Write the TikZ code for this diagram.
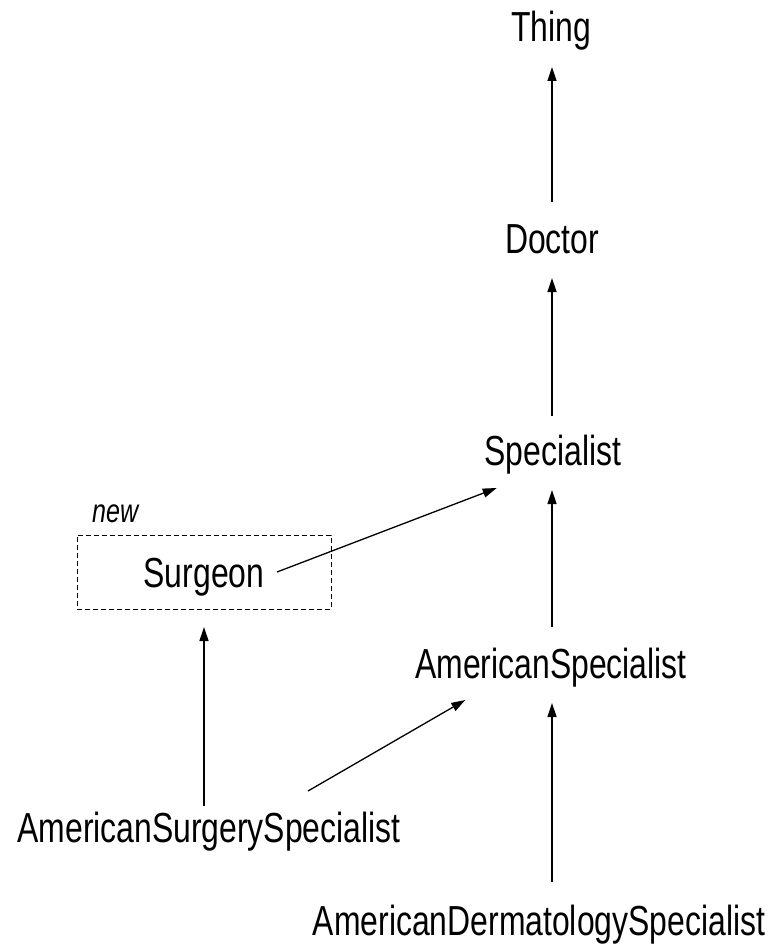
\documentclass[tikz,border=0pt]{standalone}
\usepackage{fontspec}
\setmainfont{Liberation Sans}[FakeStretch=0.76]
\usetikzlibrary{arrows.meta}
\tikzset{
  lbl/.style={inner sep=0pt, outer sep=0pt, text height=31pt, text depth=0pt,
    font=\fontsize{42}{48}\selectfont},
  newbox/.style={lbl, draw, dashed, dash pattern=on 5pt off 3pt, line width=1pt,
    minimum width=254pt, minimum height=74pt},
  tag/.style={inner sep=0pt, anchor=base west, font=\fontsize{33}{38}\selectfont\itshape},
  arr/.style={line width=1.3pt, -{Triangle[length=14pt,width=9pt]}}
}
\begin{document}
\begin{tikzpicture}[x=1pt,y=-1pt]
\useasboundingbox (0,0) rectangle (778,944);
\coordinate (col) at (552,0);
\node[lbl, anchor=south] (thing) at (551,42) {Thing};
\node[lbl, anchor=south] (doctor) at (552,253) {Doctor};
\node[lbl, anchor=south] (spec) at (553,465) {Specialist};
\node[newbox] (surg) at (204,572) {Surgeon};
\node[tag] (new) at ([shift={(15pt,13pt)}]surg.north west) {new};
\node[lbl, anchor=south] (aspec) at (551,678) {AmericanSpecialist};
\node[lbl, anchor=south] (asurg) at (209,842) {AmericanSurgerySpecialist};
\node[lbl, anchor=south] (aderm) at (539,935) {AmericanDermatologySpecialist};

\coordinate (thingB) at (thing.south -| col);
\coordinate (doctorT) at (doctor.north -| col);
\coordinate (doctorB) at (doctor.south -| col);
\coordinate (specT) at (spec.north -| col);
\coordinate (specB) at (spec.south -| col);
\coordinate (aspecT) at (aspec.north -| col);
\coordinate (aspecB) at (aspec.south -| col);
\coordinate (adermT) at (aderm.north -| col);

\draw[arr] ([yshift=20pt]doctorT) -- ([yshift=-25pt]thingB);
\draw[arr] ([yshift=18pt]specT) -- ([yshift=-25pt]doctorB);
\draw[arr] ([yshift=20pt]aspecT) -- ([yshift=-25pt]specB);
\draw[arr] ([yshift=22pt]adermT) -- ([yshift=-25pt]aspecB);
\draw[arr] ([xshift=-54pt]surg.east) -- ([shift={(12pt,-23pt)}]spec.south west);
\draw[arr] ([shift={(-5pt,5pt)}]asurg.north) -- ([yshift=-18pt]surg.south);
\draw[arr] ([shift={(99pt,20pt)}]asurg.north) -- ([shift={(50pt,-22pt)}]aspec.south west);
\end{tikzpicture}
\end{document}
